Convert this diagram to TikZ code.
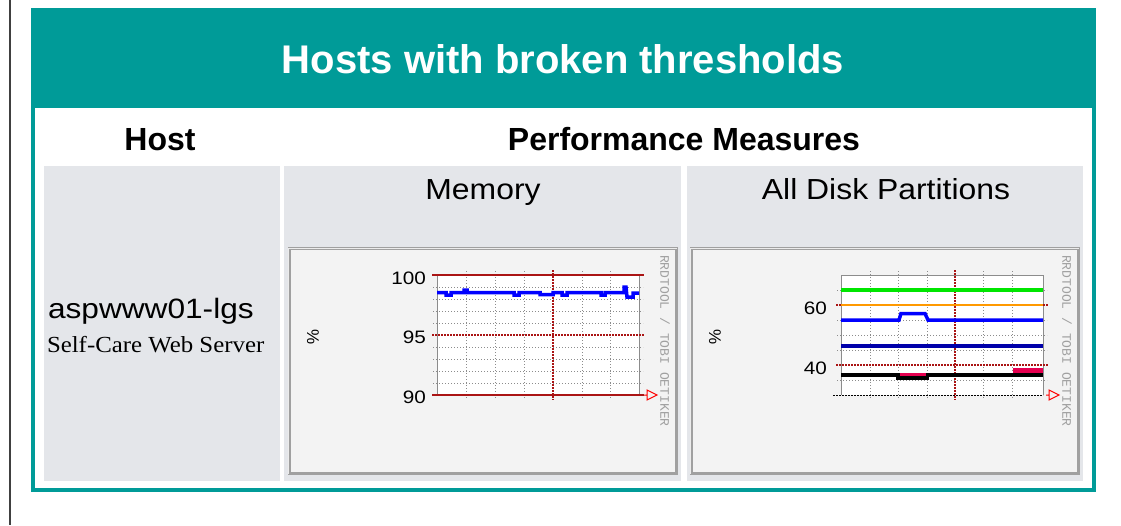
\documentclass[tikz,border=0pt]{standalone}
\usepackage{fontspec}
\setmainfont{Liberation Sans}
\newfontfamily\timesft{Liberation Serif}
\newfontfamily\courft{Liberation Mono}
\definecolor{hdrteal}{RGB}{0,155,152}
\definecolor{cellgray}{RGB}{228,230,234}
\definecolor{panelgray}{RGB}{243,243,243}
\definecolor{framegray}{RGB}{160,160,160}
\definecolor{gridred}{RGB}{170,20,20}
\definecolor{gridgray}{RGB}{140,140,140}
\definecolor{rrdblue}{RGB}{0,0,255}
\definecolor{rrdnavy}{RGB}{0,0,170}
\definecolor{rrdgreen}{RGB}{0,230,0}
\definecolor{rrdorange}{RGB}{255,153,0}
\definecolor{rrdpink}{RGB}{230,0,80}

\begin{document}
\begin{tikzpicture}[x=1pt,y=-1pt]
	\tikzstyle{every node}=[inner sep=0pt, outer sep=0pt]
	\tikzstyle{minor}=[gridgray, line width=1pt, dash pattern=on 1pt off 2pt]
	\tikzstyle{major}=[gridred, line width=1.2pt, dash pattern=on 1.5pt off 1.5pt]
	\tikzstyle{tick}=[font=\fontsize{18}{18}\selectfont, xscale=1.15, anchor=east]
	\tikzstyle{plain}=[font=\fontsize{29}{29}\selectfont, xscale=1.1, anchor=base]
	\tikzstyle{rrd}=[font=\courft\fontsize{13}{13}\selectfont, text=framegray, rotate=-90, anchor=west]
	\tikzstyle{pct}=[font=\fontsize{17}{17}\selectfont, rotate=-90]
	\tikzstyle{frame}=[fill=panelgray, draw=framegray, line width=3pt]
	\tikzstyle{series}=[line width=3.5pt, line join=miter]
	\useasboundingbox (0,0) rectangle (1121,525);
	\fill[white] (0,0) rectangle (1121,525);
	\fill[black!75] (9,0) rectangle (11,525);
	\fill[hdrteal] (31,8) rectangle (1096,492);
	\fill[white] (35,108) rectangle (1092,488);
	\fill[cellgray] (44,166) rectangle (280,481);
	\fill[cellgray] (284,166) rectangle (681,481);
	\fill[cellgray] (687,166) rectangle (1083,481);
	\node[anchor=base, font=\bfseries\fontsize{40}{40}\selectfont, text=white] (hdr) at (563,73) {Hosts with broken thresholds};
	\node[anchor=base, font=\bfseries\fontsize{32}{32}\selectfont] (hostcol) at (160,150) {Host};
	\node[anchor=base, font=\bfseries\fontsize{32}{32}\selectfont] (perfcol) at (684,150) {Performance Measures};
	\node[plain] (memtitle) at (483,199) {Memory};
	\node[plain] (disktitle) at (886,199) {All Disk Partitions};
	\node[anchor=base west, font=\fontsize{28}{28}\selectfont, xscale=1.13] (hostname) at (48,318) {aspwww01-lgs};
	\node[anchor=base west, font=\timesft\fontsize{23}{23}\selectfont, xscale=1.08] (hostdesc) at (47,352) {Self-Care Web Server};
	\draw[frame] (289.5,248.5) rectangle (676.5,473.5);
	\draw[white!85!gray, line width=1pt] (288.5,474) -- (288.5,248) -- (677,248);
	\draw[frame] (691.5,248.5) rectangle (1078.5,473.5);
	\draw[white!85!gray, line width=1pt] (690.5,474) -- (690.5,248) -- (1079,248);
	\fill[white] (437,275) rectangle (639,395);
	\fill[white] (841,275) rectangle (1043,395);
	\foreach \v in {287,299,311,323,347,359,371,383}
		\draw[minor] (433,\v) -- (643,\v);
	\foreach \u in {466,495,524,582,610}
		\draw[minor] (\u,271) -- (\u,399);
	\draw[gridgray, line width=1pt] (437,275) -- (437,395);
	\draw[gridgray, line width=1pt] (639,275) -- (639,395);
	\draw[major] (432,335) -- (644,335);
	\draw[major] (553,270) -- (553,400);
	\draw[gridred, line width=1.2pt] (432,275) -- (644,275);
	\draw[gridred, line width=1.2pt] (432,395) -- (644,395);
	\draw[series, rrdblue] (437,292.5) -- (446,292.5) -- (446,295) -- (451,295) -- (451,292.5) -- (464,292.5) -- (464,290) -- (467,290) -- (467,292.5)
		-- (514,292.5) -- (514,295) -- (519,295) -- (519,292.5) -- (540,292.5) -- (540,294.5) -- (553,294.5) -- (553,292.5)
		-- (562,292.5) -- (562,295) -- (567,295) -- (567,292.5) -- (601,292.5) -- (601,295) -- (605,295) -- (605,292.5)
		-- (624,292.5) -- (624,287) -- (626,287) -- (627,297) -- (633,297) -- (633,293) -- (639,293);
	\node[tick] (m100) at (426,278) {100};
	\node[tick] (m95) at (426,337) {95};
	\node[tick] (m90) at (426,397) {90};
	\node[pct] (mpct) at (313,337) {\%};
	\node[rrd] (mrrd) at (665,255) {RRDTOOL / TOBI OETIKER};
	\draw[red, line width=1pt] (644,395) -- (647,395) (647,390) -- (657,395) -- (647,400) -- cycle;
	\foreach \v in {290,320,335,350,380}
		\draw[minor] (837,\v) -- (1047,\v);
	\foreach \u in {870,898,927,983,1012}
		\draw[minor] (\u,271) -- (\u,399);
	\draw[gridgray, line width=1pt] (841,275) -- (1043,275);
	\draw[gridgray, line width=1pt] (841,275) -- (841,395);
	\draw[gridgray, line width=1pt] (1043,275) -- (1043,395);
	\draw[major] (836,305) -- (1048,305);
	\draw[major] (836,365) -- (1048,365);
	\draw[major] (955,270) -- (955,400);
	\draw[black, line width=1pt, dash pattern=on 2pt off 1pt] (833,395) -- (1043,395);
	\draw[series, rrdgreen] (841,290) -- (1043,290);
	\draw[line width=2pt, rrdorange] (841,305) -- (1043,305);
	\draw[series, rrdblue] (841,320) -- (899,320) -- (901,313.5) -- (925,313.5) -- (928,320) -- (1043,320);
	\draw[series, rrdnavy] (841,346) -- (1043,346);
	\draw[series, black] (841,375) -- (898,375) -- (898,378) -- (927,378) -- (927,375) -- (1043,375);
	\draw[line width=3pt, rrdpink] (900,374) -- (926,374);
	\draw[line width=4.5pt, rrdpink] (1013,370.5) -- (1043,370.5);
	\node[tick] (d60) at (827,308) {60};
	\node[tick] (d40) at (827,368) {40};
	\node[pct] (dpct) at (715,337) {\%};
	\node[rrd] (drrd) at (1067,255) {RRDTOOL / TOBI OETIKER};
	\draw[red, line width=1pt] (1046,395) -- (1049,395) (1049,390) -- (1059,395) -- (1049,400) -- cycle;
\end{tikzpicture}
\end{document}
